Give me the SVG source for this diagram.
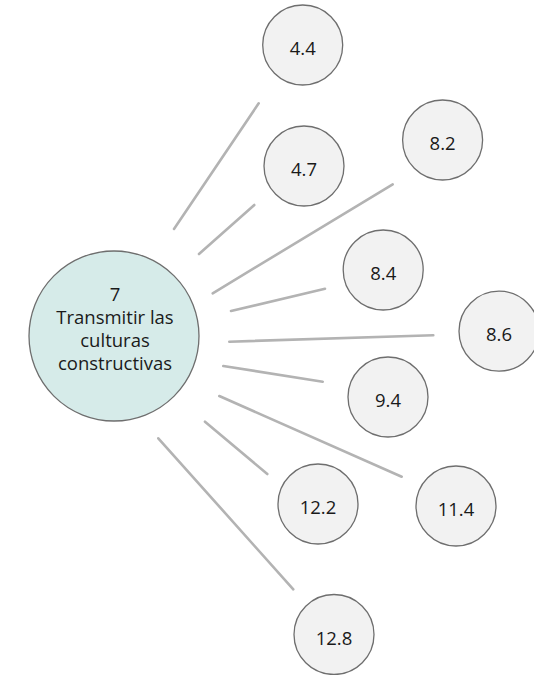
<svg xmlns="http://www.w3.org/2000/svg" width="534" height="675" viewBox="0 0 534 675">
  <style>
    .link { stroke: #b3b3b3; stroke-width: 2.6; stroke-linecap: round; fill: none; }
    .leaf circle { fill: #f2f2f2; stroke: #6e6e6e; stroke-width: 1.3; }
    .hub circle { fill: #d6ebe9; stroke: #6e6e6e; stroke-width: 1.3; }
    text { font-family: "Open Sans", "Noto Sans", sans-serif; fill: #1a1a1a; text-anchor: middle; }
    .leaf text { font-size: 18.5px; }
    .hub text { font-size: 18.5px; }
  </style>
  <rect width="534" height="675" fill="#ffffff"/>

  <!-- spokes from the central theme out to each target -->
  <g id="connectors">
    <line class="link" x1="174" y1="229" x2="258.7" y2="103.3"/>
    <line class="link" x1="199" y1="254" x2="254.3" y2="205"/>
    <line class="link" x1="212.7" y1="293.3" x2="392.7" y2="184.3"/>
    <line class="link" x1="231" y1="311" x2="325" y2="288.7"/>
    <line class="link" x1="229.3" y1="341.7" x2="433.3" y2="335.3"/>
    <line class="link" x1="223.3" y1="366" x2="322.7" y2="381.7"/>
    <line class="link" x1="219.3" y1="396" x2="401.7" y2="476.7"/>
    <line class="link" x1="205" y1="421.7" x2="267.3" y2="474"/>
    <line class="link" x1="158.3" y1="438.3" x2="293.3" y2="589.3"/>
  </g>

  <g id="node-7" class="hub">
    <circle cx="114" cy="336" r="85"/>
    <text x="115" y="300.5">7</text>
    <text x="115" y="323.8">Transmitir las</text>
    <text x="115" y="347.1">culturas</text>
    <text x="115" y="370.4">constructivas</text>
  </g>

  <g id="node-4-4" class="leaf">
    <circle cx="302.7" cy="45" r="40"/>
    <text x="302.7" y="55">4.4</text>
  </g>
  <g id="node-4-7" class="leaf">
    <circle cx="304" cy="166" r="40"/>
    <text x="304" y="176">4.7</text>
  </g>
  <g id="node-8-2" class="leaf">
    <circle cx="442.6" cy="140" r="40"/>
    <text x="442.6" y="150">8.2</text>
  </g>
  <g id="node-8-4" class="leaf">
    <circle cx="383.2" cy="270" r="40"/>
    <text x="383.2" y="280">8.4</text>
  </g>
  <g id="node-8-6" class="leaf">
    <circle cx="499" cy="331.2" r="40"/>
    <text x="499" y="341.2">8.6</text>
  </g>
  <g id="node-9-4" class="leaf">
    <circle cx="388" cy="397" r="40"/>
    <text x="388" y="407">9.4</text>
  </g>
  <g id="node-11-4" class="leaf">
    <circle cx="456" cy="506" r="40"/>
    <text x="456" y="516">11.4</text>
  </g>
  <g id="node-12-2" class="leaf">
    <circle cx="318" cy="504" r="40"/>
    <text x="318" y="514">12.2</text>
  </g>
  <g id="node-12-8" class="leaf">
    <circle cx="334" cy="634.5" r="40"/>
    <text x="334" y="644.5">12.8</text>
  </g>
</svg>
